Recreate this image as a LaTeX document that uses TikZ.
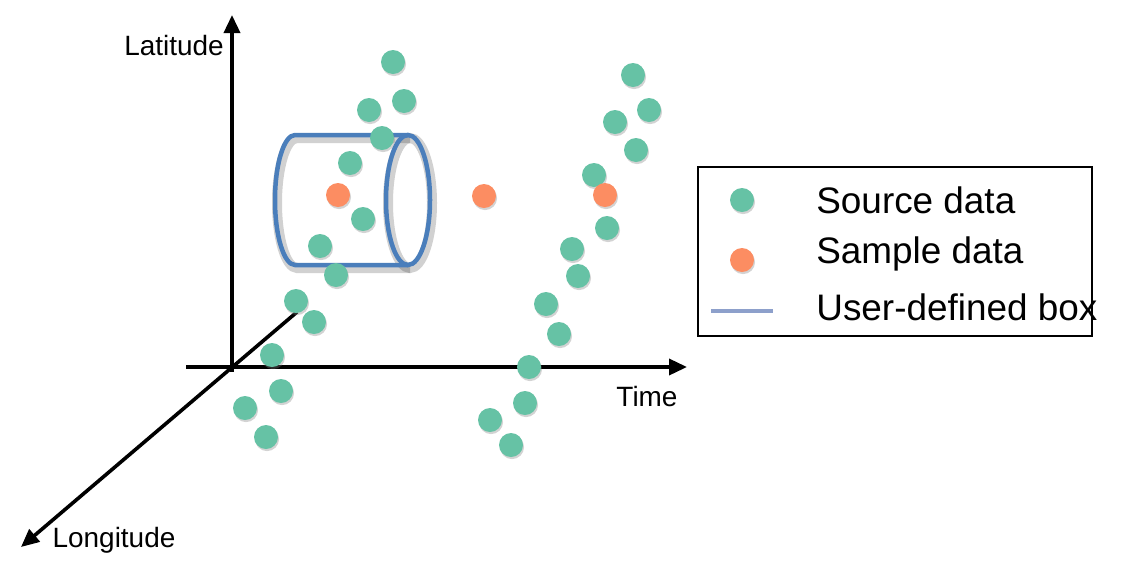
\documentclass[tikz,border=0pt]{standalone}
\usepackage{fontspec}
\setmainfont{Liberation Sans}
\usetikzlibrary{arrows.meta,shadows}
\definecolor{srcgreen}{HTML}{66C2A5}
\definecolor{smporange}{HTML}{FC8D62}
\definecolor{cylblue}{HTML}{4A7EBB}
\definecolor{legblue}{HTML}{8DA0CB}
\begin{document}
\begin{tikzpicture}[x=0.02cm,y=-0.02cm,
  dotshadow/.style={drop shadow={opacity=0.35,shadow xshift=0.6pt,shadow yshift=-1.2pt}},
  src/.style={circle,fill=srcgreen,minimum size=24*0.02cm,inner sep=0pt,dotshadow},
  smp/.style={circle,fill=smporange,minimum size=24*0.02cm,inner sep=0pt,dotshadow},
  axis/.style={line width=3.6*0.02cm,-{Triangle[length=18*0.02cm,width=16*0.02cm]}},
  axlabel/.style={font=\fontsize{15.9}{18}\selectfont,inner sep=0pt},
  leglabel/.style={font=\fontsize{21}{24}\selectfont,inner sep=0pt,anchor=west},
  cyl/.style={line width=4.5*0.02cm,draw=cylblue},
  cylsh/.style={line width=10*0.02cm,draw=black,opacity=0.18}
]
\useasboundingbox (0,0) rectangle (1125,572);
% axes
\coordinate (vbot) at (232,372);
\coordinate (vtop) at (232,15);
\coordinate (hleft) at (186,367);
\coordinate (hright) at (687,367);
\coordinate (lstart) at (297,312);
\coordinate (lend) at (21,547);
\draw[axis] (vbot) -- (vtop);
\draw[axis] (hleft) -- (hright);
\draw[axis] (lstart) -- (lend);
\node[axlabel] (latlab) at (174,46) {Latitude};
\node[axlabel] (timelab) at (647,397) {Time};
\node[axlabel] (lonlab) at (114,540) {Longitude};
% cylinder shadow
\begin{scope}[shift={(2,3)}]
\draw[cylsh] (408,135) -- (295,135) arc[start angle=270,end angle=90,x radius=20,y radius=65] -- (408,265);
\draw[cylsh] (408,200) ellipse[x radius=22,y radius=65];
\end{scope}
% cylinder
\draw[cyl] (408,135) -- (295,135) arc[start angle=270,end angle=90,x radius=20,y radius=65] -- (408,265);
\draw[cyl] (408,200) ellipse[x radius=22,y radius=65];
% source data
\foreach \n/\x/\y in {a1/393/62,a2/369/110,a3/404/101,a4/382/138,a5/350/163,a6/363/219,a7/320/246,a8/336/275,a9/296/301,a10/314/322,a11/272/355,a12/281/391,a13/245/408,a14/266/437,
  b1/633/75,b2/649/110,b3/615/122,b4/636/150,b5/594/175,b6/607/228,b7/572/249,b8/578/276,b9/546/304,b10/559/334,b11/529/367,b12/525/403,b13/490/420,b14/511/445}
  \node[src] (\n) at (\x,\y) {};
% sample data
\node[smp] (s1) at (338,195) {};
\node[smp] (s2) at (484,196) {};
\node[smp] (s3) at (605,195) {};
% legend
\node[draw=black,line width=2*0.02cm,minimum width=394*0.02cm,minimum height=169*0.02cm,inner sep=0pt] (legend) at (895,251.5) {};
\node[src] (lg1) at (742,200) {};
\node[smp] (lg2) at (742,260) {};
\coordinate (lgl1) at (711,311);
\coordinate (lgl2) at (773,311);
\draw[legblue,line width=4*0.02cm] (lgl1) -- (lgl2);
\node[leglabel] (lt1) at (816,200) {Source data};
\node[leglabel] (lt2) at (816,254) {Sample data};
\node[leglabel] (lt3) at (816,307) {User-defined box};
\end{tikzpicture}
\end{document}
